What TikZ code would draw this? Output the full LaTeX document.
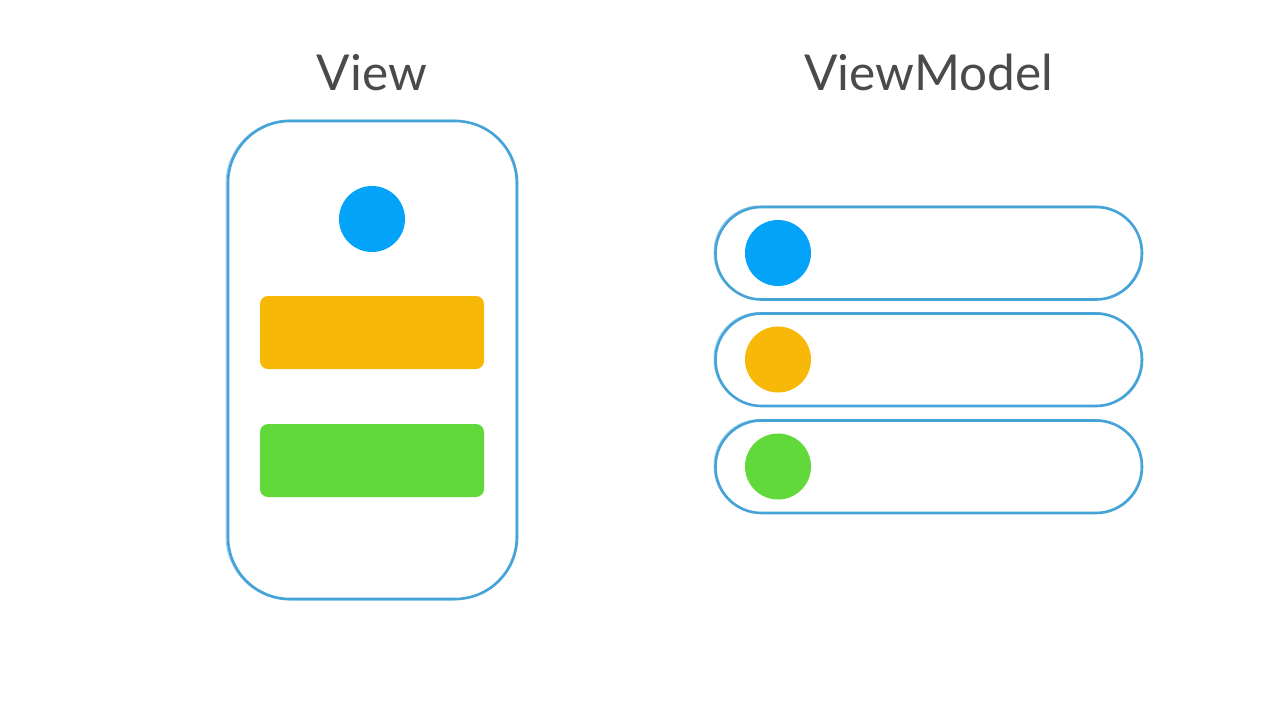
\documentclass[tikz,border=0pt]{standalone}
\usepackage{fontspec}
\setmainfont{Lato}
\definecolor{sketch}{HTML}{45A3D8}
\definecolor{sketchlight}{HTML}{9DCFEC}
\definecolor{dotblue}{HTML}{03A3FA}
\definecolor{dotorange}{HTML}{F7B808}
\definecolor{dotgreen}{HTML}{62D93A}
\definecolor{titlegray}{HTML}{4A4A4A}
\begin{document}
\begin{tikzpicture}[x=1pt,y=-1pt,
  title/.style={font=\fontsize{49.5}{58}\selectfont, text=titlegray, inner sep=0pt, anchor=base},
  frame/.style={draw=sketch, line width=2.6pt},
  frameghost/.style={draw=sketchlight, line width=1pt},
  dot/.style={circle, fill=#1, minimum size=66pt, inner sep=0pt},
  bar/.style={fill=#1, rounded corners=8pt}]
\useasboundingbox[fill=white] (0,0) rectangle (1280,720);
% titles
\node[title] (tview) at (372,90) {View};
\node[title] (tvm) at (928.5,90) {ViewModel};
% phone frame
\draw[frameghost, rounded corners=64pt] (226,120) rectangle (516,600);
\draw[frame, rounded corners=62pt] (228,121) rectangle (517,599);
\node[dot=dotblue] (vdot) at (372,219) {};
\fill[bar=dotorange] (260,296) rectangle (484,369);
\fill[bar=dotgreen] (260,424) rectangle (484,497);
% view model pills
\foreach \y/\c/\n in {253/dotblue/a, 359.5/dotorange/b, 466.5/dotgreen/c}{
  \draw[frameghost, rounded corners=46pt] (714,\y-47) rectangle (1141,\y+46);
  \draw[frame, rounded corners=46pt] (715.5,\y-46) rectangle (1142,\y+46.5);
  \node[dot=\c] (m\n) at (778,\y) {};
}
\end{tikzpicture}
\end{document}
